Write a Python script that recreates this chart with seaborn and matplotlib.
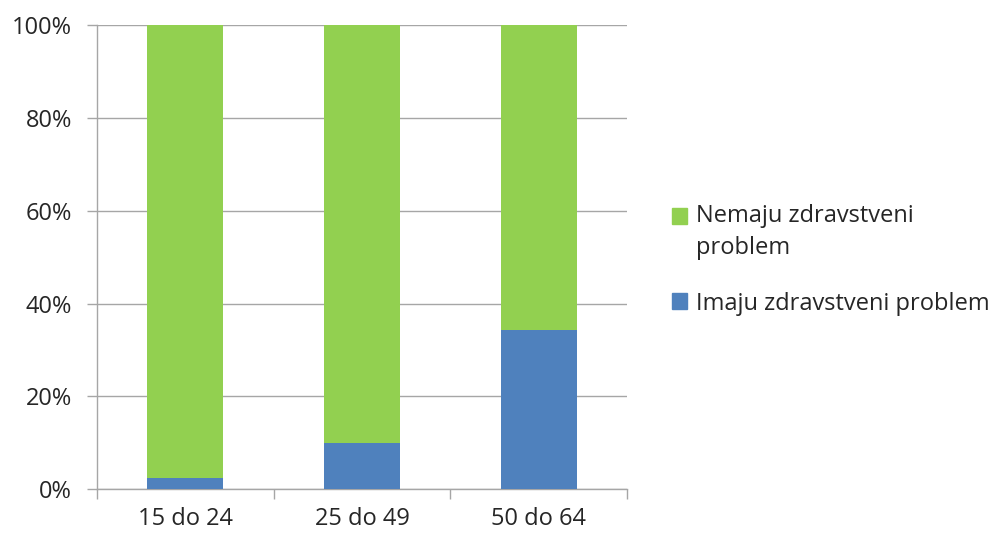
import pandas as pd
import seaborn as sns
import matplotlib.pyplot as plt
from matplotlib.patches import Patch
from matplotlib.ticker import FuncFormatter

# Data (percent of age group)
groups = ['15 do 24', '25 do 49', '50 do 64']
imaju = [2.5, 10.0, 34.3]          # have a health problem
nemaju = [100 - v for v in imaju]  # no health problem

green = '#92D050'
blue = '#4F81BD'

df = pd.DataFrame({'grupa': groups, 'imaju': imaju, 'nemaju': nemaju})
df['ukupno'] = df['imaju'] + df['nemaju']

sns.set_style('white')
plt.rcParams['font.family'] = ['Open Sans', 'DejaVu Sans']

fig = plt.figure(figsize=(9.89, 5.34), dpi=100)
ax = fig.add_axes([0.098, 0.084, 0.536, 0.869])

# stacked bars: total (green) underneath, blue part in front
sns.barplot(data=df, x='grupa', y='ukupno', color=green, width=0.43,
            saturation=1, linewidth=0, ax=ax, zorder=3)
sns.barplot(data=df, x='grupa', y='imaju', color=blue, width=0.43,
            saturation=1, linewidth=0, ax=ax, zorder=4)

ax.set_xlim(-0.5, 2.5)
ax.set_ylim(0, 100)
ax.set_yticks(range(0, 101, 20))
ax.yaxis.set_major_formatter(FuncFormatter(lambda v, p: f'{int(v)}%'))
ax.yaxis.grid(True, color='#a6a6a6', linewidth=1, zorder=0)
ax.set_xlabel('')
ax.set_ylabel('')

# category boundary ticks on x axis
ax.set_xticks([-0.5, 0.5, 1.5, 2.5], minor=True)
ax.tick_params(axis='x', which='minor', length=7, color='#a6a6a6', width=1, bottom=True)
ax.tick_params(axis='x', which='major', length=0, labelsize=17, pad=13, colors='#262626')
ax.tick_params(axis='y', length=7, color='#a6a6a6', width=1, left=True,
               labelsize=17, colors='#262626', pad=11)

for side in ['top', 'right']:
    ax.spines[side].set_visible(False)
for side in ['left', 'bottom']:
    ax.spines[side].set_color('#a6a6a6')
    ax.spines[side].set_linewidth(1)

handles = [Patch(color=green, label='Nemaju zdravstveni\nproblem'),
           Patch(color=blue, label='Imaju zdravstveni problem')]
leg = fig.legend(handles=handles, loc='center left', bbox_to_anchor=(0.658, 0.514),
                 frameon=False, fontsize=17, handlelength=0.65, handleheight=0.65,
                 handletextpad=0.35, labelspacing=1.35, labelcolor='#262626')
for t in leg.get_texts():
    t.set_linespacing(1.45)
# square beside the first line of the two-line label
first = leg.legend_handles[0]
first.set_y(first.get_y() + 11.5)

plt.savefig('out.png', dpi=100)
